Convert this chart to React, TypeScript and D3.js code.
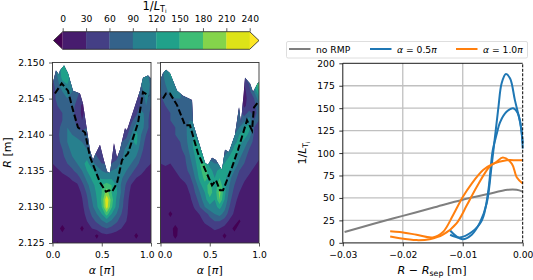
import React, { useEffect, useRef } from 'react';
import * as d3 from 'd3';

const levels = [0, 30, 60, 90, 120, 150, 180, 210, 240];
const levelColors = ['#471c6e', '#443f85', '#34628a', '#27808e', '#20a18a', '#3dbd75', '#84d44b', '#dde318', '#fde725'];
const belowColor = '#440154';
const aboveColor = '#fde725';

// rows: R from 2.150 down to 2.125 in 0.001 steps, columns: alpha 0..1 in 0.05 steps
const gridLeft = [
  [60, 90, 120, 120, 90, 60, 40, 40, 40, 40, 40, 40, 40, 40, 40, 40, 40, 40, 60, 90, 60],
  [60, 100, 130, 140, 100, 60, 40, 40, 40, 40, 40, 40, 40, 40, 40, 40, 40, 40, 70, 100, 70],
  [60, 90, 130, 140, 100, 70, 50, 40, 40, 40, 40, 40, 40, 40, 40, 40, 40, 50, 100, 110, 70],
  [50, 80, 110, 120, 100, 70, 50, 40, 40, 40, 40, 40, 40, 40, 40, 40, 40, 60, 90, 120, 80],
  [45, 70, 90, 100, 90, 70, 50, 40, 40, 40, 40, 40, 40, 40, 40, 40, 40, 60, 60, 120, 70],
  [45, 70, 80, 90, 80, 60, 40, 40, 40, 40, 40, 40, 40, 40, 40, 40, 40, 40, 60, 100, 70],
  [40, 60, 70, 80, 70, 50, 25, 40, 40, 40, 40, 40, 40, 40, 40, 40, 40, 30, 70, 90, 60],
  [40, 50, 60, 80, 70, 45, 25, 40, 40, 40, 40, 40, 40, 40, 40, 40, 30, 50, 100, 80, 50],
  [40, 50, 60, 80, 70, 50, 30, 50, 40, 40, 40, 40, 40, 40, 40, 30, 50, 80, 120, 70, 50],
  [40, 50, 70, 90, 80, 60, 50, 60, 40, 40, 40, 40, 40, 40, 40, 30, 70, 110, 110, 70, 50],
  [40, 50, 80, 90, 90, 80, 70, 60, 50, 40, 40, 40, 40, 40, 40, 50, 90, 130, 90, 60, 45],
  [40, 50, 70, 90, 100, 100, 90, 70, 70, 40, 40, 40, 40, 40, 60, 70, 110, 130, 80, 50, 45],
  [40, 50, 60, 80, 100, 110, 110, 90, 70, 50, 40, 40, 40, 40, 70, 100, 120, 110, 70, 45, 40],
  [35, 45, 55, 70, 90, 100, 120, 110, 80, 60, 50, 50, 50, 50, 80, 110, 110, 90, 60, 42, 35],
  [30, 40, 50, 60, 70, 90, 110, 130, 100, 80, 60, 60, 60, 70, 100, 110, 90, 70, 50, 40, 30],
  [20, 25, 35, 45, 55, 70, 90, 120, 130, 110, 90, 80, 90, 100, 110, 90, 70, 50, 40, 25, 15],
  [15, 15, 20, 25, 35, 45, 70, 100, 125, 125, 115, 110, 115, 115, 95, 70, 50, 30, 20, 15, 15],
  [15, 15, 15, 15, 20, 25, 50, 80, 110, 130, 150, 170, 150, 120, 85, 55, 28, 15, 15, 15, 15],
  [15, 15, 15, 15, 15, 15, 35, 65, 100, 125, 150, 195, 150, 125, 85, 45, 22, 15, 15, 15, 15],
  [15, 15, 15, 15, 15, 15, 28, 55, 90, 120, 155, 235, 165, 115, 75, 40, 18, 15, 15, 15, 15],
  [15, 15, 15, 15, 15, 15, 22, 50, 80, 115, 150, 225, 155, 110, 70, 38, 15, 15, 15, 15, 15],
  [15, 15, 15, 15, 15, 15, 18, 40, 65, 90, 120, 165, 120, 90, 60, 35, 15, 15, 15, 15, 15],
  [15, 15, 15, 15, 15, 15, 15, 30, 50, 65, 85, 100, 85, 65, 45, 30, 15, 15, 15, 15, 15],
  [15, 15, -15, 15, 15, 15, -10, 18, 30, 40, 50, 60, 50, 40, 30, 20, 15, 15, 15, 15, 15],
  [15, 15, 15, 15, 15, 15, 15, 15, 15, -10, 20, 22, 20, 15, 15, 15, 15, -10, 15, 15, 15],
  [15, -5, 15, 15, 15, 15, 15, 15, 15, 15, 15, 15, 15, 15, 15, 15, 15, 15, 15, 15, 15],
];

const gridRight = [
  [60, 110, 130, 120, 90, 60, 40, 40, 40, 40, 40, 40, 40, 40, 40, 40, 40, 80, 100, 90, 90],
  [60, 110, 130, 120, 100, 70, 50, 40, 40, 40, 40, 40, 40, 40, 40, 40, 40, 70, 100, 95, 100],
  [70, 100, 120, 120, 110, 70, 50, 40, 40, 40, 40, 40, 40, 40, 40, 40, 50, 60, 90, 100, 110],
  [70, 90, 110, 120, 110, 70, 50, 40, 40, 40, 40, 40, 40, 40, 40, 40, 40, 30, 60, 120, 170],
  [60, 80, 100, 110, 100, 70, 50, 45, 40, 40, 40, 40, 40, 40, 40, 40, 30, 20, 50, 90, 150],
  [55, 70, 80, 90, 90, 70, 60, 50, 40, 40, 40, 40, 40, 40, 40, 40, 40, 20, 40, 60, 110],
  [50, 60, 70, 80, 85, 75, 70, 60, 40, 40, 40, 40, 40, 40, 40, 40, 60, 25, 40, 50, 80],
  [45, 55, 60, 70, 80, 80, 80, 70, 50, 40, 40, 40, 40, 40, 40, 50, 70, 45, 70, 50, 70],
  [45, 50, 60, 65, 75, 85, 90, 85, 60, 40, 40, 40, 40, 40, 40, 60, 80, 80, 110, 60, 60],
  [40, 50, 55, 60, 70, 85, 100, 100, 70, 40, 40, 40, 40, 40, 40, 70, 90, 120, 130, 60, 55],
  [40, 45, 50, 60, 65, 80, 110, 120, 90, 50, 40, 40, 40, 40, 60, 90, 120, 140, 110, 55, 50],
  [40, 45, 50, 55, 60, 75, 110, 130, 110, 60, 40, 40, 40, 50, 70, 110, 130, 110, 80, 50, 45],
  [40, 45, 45, 50, 55, 70, 100, 130, 130, 90, 50, 40, 50, 70, 90, 130, 120, 90, 60, 45, 40],
  [35, 40, 40, 45, 50, 60, 90, 120, 140, 120, 70, 60, 60, 90, 120, 140, 100, 70, 50, 40, 35],
  [30, 35, 30, 40, 45, 55, 80, 110, 150, 150, 110, 90, 90, 120, 140, 120, 80, 60, 45, 35, 25],
  [15, 20, 22, 30, 40, 50, 70, 100, 140, 170, 130, 110, 130, 130, 120, 90, 60, 45, 35, 25, 15],
  [15, 15, 15, 20, 30, 40, 55, 90, 130, 160, 140, 120, 150, 130, 100, 70, 50, 35, 25, 15, 15],
  [15, 15, 15, 15, 20, 25, 40, 70, 110, 140, 160, 130, 170, 130, 90, 60, 40, 25, 15, 15, 15],
  [15, 15, 15, 15, 15, 20, 32, 60, 90, 120, 170, 130, 190, 130, 80, 50, 30, 15, 15, 15, 15],
  [15, 15, 15, 15, 15, 15, 25, 45, 75, 110, 140, 120, 180, 120, 70, 40, 20, 15, 15, 15, 15],
  [15, 15, 15, 15, 15, 15, 15, 35, 60, 90, 110, 110, 130, 100, 60, 32, 15, 15, 15, 15, 15],
  [15, 15, -10, 15, 15, 15, 15, 20, 32, 45, 70, 90, 100, 80, 45, 25, 15, 15, 15, 15, 15],
  [15, 15, 15, 15, 15, 15, 15, 15, 20, 35, 45, 60, 60, 45, 25, 15, -5, 15, 15, 15, 15],
  [15, 15, 15, -15, 15, 15, 15, 15, 15, 18, 25, 35, 30, 20, 15, -10, 15, 15, 15, 15, 15],
  [15, 15, 15, -10, 15, 15, 15, 15, 15, 15, 15, 15, 15, -10, 15, 15, 15, 15, 15, 15, 15],
  [15, 15, 15, 15, 15, 15, 15, 15, 15, 15, 15, 15, 15, 15, 15, 15, 15, 15, 15, 15, 15],
];

const edgeAlphaLeft = [0, 0.015, 0.035, 0.066, 0.076, 0.117, 0.157, 0.208, 0.279, 0.31, 0.35, 0.381, 0.411, 0.431, 0.482, 0.513, 0.553, 0.584, 0.624, 0.655, 0.685, 0.736, 0.756, 0.888, 0.919, 0.97, 1];
const edgeRLeft = [2.1470, 2.1478, 2.1489, 2.1483, 2.1489, 2.1496, 2.1485, 2.1461, 2.1457, 2.1443, 2.1406, 2.1378, 2.1365, 2.1372, 2.1386, 2.1369, 2.1349, 2.1347, 2.1388, 2.1368, 2.1379, 2.1409, 2.1406, 2.1461, 2.1479, 2.1482, 2.1478];
const edgeAlphaRight = [0, 0.005, 0.025, 0.056, 0.096, 0.168, 0.228, 0.32, 0.33, 0.452, 0.482, 0.523, 0.563, 0.624, 0.655, 0.695, 0.756, 0.797, 0.817, 0.858, 0.909, 0.939, 0.99, 1];
const edgeRRight = [2.1470, 2.1478, 2.1485, 2.149, 2.1485, 2.1461, 2.1454, 2.1448, 2.1416, 2.1361, 2.1358, 2.1368, 2.1365, 2.1351, 2.1379, 2.1376, 2.14, 2.1438, 2.1416, 2.1479, 2.1471, 2.1459, 2.1472, 2.1472];

const dashAlphaLeft = [0.025, 0.093, 0.157, 0.208, 0.259, 0.33, 0.381, 0.482, 0.543, 0.574, 0.604, 0.655, 0.706, 0.766, 0.787, 0.868, 0.919, 0.98];
const dashRLeft = [2.1457, 2.1471, 2.1461, 2.1434, 2.141, 2.1403, 2.1369, 2.1334, 2.1321, 2.1323, 2.1321, 2.1333, 2.1365, 2.1374, 2.1383, 2.1416, 2.1459, 2.1454];
const dashAlphaRight = [0.025, 0.056, 0.096, 0.168, 0.249, 0.299, 0.381, 0.523, 0.563, 0.604, 0.635, 0.726, 0.787, 0.878, 0.929, 0.949, 0.99];
const dashRRight = [2.145, 2.1457, 2.1457, 2.1441, 2.1413, 2.1413, 2.1374, 2.133, 2.1337, 2.1323, 2.1323, 2.1355, 2.1379, 2.142, 2.1406, 2.1438, 2.1445];

const noRmpX = [-0.0297, -0.025, -0.02, -0.015, -0.01, -0.006, -0.0025, -0.001, 0];
const noRmpY = [12, 21, 30, 39, 48, 54, 59, 59, 57];
const blueAX = [-0.01214, -0.0112, -0.01, -0.0085, -0.0071, -0.006, -0.0052, -0.0041, -0.0035, -0.0028, -0.0021, -0.0013, -0.0004, 0];
const blueAY = [14, 8, 4, 9, 23, 44, 85, 148, 178, 188, 183, 159, 133, 111];
const blueBX = [-0.0121, -0.0105, -0.0085, -0.0068, -0.0058, -0.005, -0.0043, -0.0038, -0.0027, -0.0016, -0.0008, -0.0002, 0];
const blueBY = [9, 6, 12, 25, 55, 103, 122, 134, 146, 150, 144, 125, 105];
const orangeCX = [-0.0221, -0.0205, -0.0177, -0.015, -0.0133, -0.0116, -0.01, -0.0085, -0.0066, -0.005, -0.0027, -0.001, 0];
const orangeCY = [13, 12, 9, 6, 12, 31, 51, 66, 81, 88, 92, 92, 92];
const orangeDX = [-0.0221, -0.0205, -0.0177, -0.0155, -0.0133, -0.011, -0.0093, -0.0077, -0.0055, -0.0044, -0.0033, -0.0018, -0.001, 0];
const orangeDY = [7, 5, 3, 4, 9, 22, 42, 62, 85, 90, 95, 88, 73, 66];

const rTicks = [2.125, 2.13, 2.135, 2.14, 2.145, 2.15];
const alphaTicks = [0, 0.5, 1];
const dxTicks = [-0.03, -0.02, -0.01, 0];
const gradTicks = [0, 25, 50, 75, 100, 125, 150, 175, 200];

const FONT = '"DejaVu Sans", sans-serif';
const TICK = 9.2;

type Sel = d3.Selection<any, any, any, any>;

// matplotlib-like text with italic/sub parts
const mathText = (g: Sel, x: number, y: number, parts: [string, string?][], size: number, rotate = false) => {
  const t = g.append('text')
    .attr('text-anchor', 'middle')
    .attr('font-size', size)
    .attr('font-family', FONT)
    .attr('fill', '#000')
    .attr('transform', `translate(${x},${y})${rotate ? ' rotate(-90)' : ''}`);
  let shift = 0;
  parts.forEach(([s, kind]) => {
    const sp = t.append('tspan').text(s);
    let target = 0;
    if (kind === 'i') sp.attr('font-style', 'italic');
    if (kind === 'sub') {
      sp.attr('font-size', size * 0.7);
      target = size * 0.2;
    }
    if (kind === 'subsub') {
      sp.attr('font-size', size * 0.5);
      target = size * 0.32;
    }
    sp.attr('dy', target - shift);
    shift = target;
  });
  return t;
};

const styleAxis = (g: Sel, color = '#000') => {
  g.attr('font-size', TICK).attr('font-family', FONT);
  g.selectAll('.domain').remove();
  g.selectAll('line').attr('stroke', color).attr('stroke-width', 0.8);
  g.selectAll('text').attr('fill', '#000');
};

const App = () => {
  const ref = useRef<SVGSVGElement>(null);

  useEffect(() => {
    const svg = d3.select(ref.current);
    svg.selectAll('*').remove();
    const top = 62.5;
    const bottom = 243;
    const y = d3.scaleLinear().domain([2.125, 2.15]).range([bottom, top]);

    const panel = (
      id: string, x0: number, x1: number, grid: number[][],
      edgeA: number[], edgeR: number[], dashA: number[], dashR: number[], first: boolean,
    ) => {
      const x = d3.scaleLinear().domain([0, 1]).range([x0, x1]);
      const g = svg.append('g');
      const clipPts: [number, number][] = edgeA.map((a, i) => [x(a), y(edgeR[i])]);
      clipPts.push([x(1), y(2.125)], [x(0), y(2.125)]);
      const poly = d3.line()(clipPts) + 'Z';
      g.append('clipPath').attr('id', id).append('path').attr('d', poly);

      const rows = grid.length;
      const cols = grid[0].length;
      const colX = d3.scaleLinear().domain([0, cols - 1]).range([x0, x1]);
      const rowY = d3.scaleLinear().domain([0, rows - 1]).range([y(2.15), y(2.125)]);
      const path = d3.geoPath(d3.geoTransform({
        point(px, py) {
          (this as any).stream.point(colX(px - 0.5), rowY(py - 0.5));
        },
      }));
      const contours = d3.contours().size([cols, rows]).thresholds(levels)(grid.flat());
      const fills = g.append('g').attr('clip-path', `url(#${id})`);
      fills.append('path').attr('d', poly).attr('fill', belowColor);
      fills.selectAll('path.band')
        .data(contours)
        .join('path')
        .attr('class', 'band')
        .attr('d', (d) => path(d))
        .attr('fill', (_, i) => levelColors[i]);

      const dash = d3.line<number>().x((a) => x(a)).y((_, i) => y(dashR[i]));
      g.append('path')
        .attr('d', dash(dashA))
        .attr('fill', 'none')
        .attr('stroke', '#000')
        .attr('stroke-width', 2)
        .attr('stroke-dasharray', '6.5,2.8');

      g.append('rect')
        .attr('x', x0).attr('y', top)
        .attr('width', x1 - x0).attr('height', bottom - top)
        .attr('fill', 'none').attr('stroke', '#333').attr('stroke-width', 0.9);

      const ax = g.append('g').attr('transform', `translate(0,${bottom})`)
        .call(d3.axisBottom(x).tickValues(alphaTicks).tickFormat(d3.format('.1f')).tickSize(3.5).tickPadding(5) as any);
      styleAxis(ax, '#333');
      // the two inner labels are nudged apart so they do not collide
      ax.selectAll('text').attr('dx', (d: any) => {
        if (first && d === 1) return -4.3;
        if (!first && d === 0) return 4;
        return 0;
      });
      const ay = g.append('g').attr('transform', `translate(${x0},0)`)
        .call(d3.axisLeft(y).tickValues(rTicks).tickFormat(first ? d3.format('.3f') : () => '').tickSize(3.5).tickPadding(4.5) as any);
      styleAxis(ay, '#333');

      mathText(g, (x0 + x1) / 2, 274, [['α', 'i'], [' ['], ['π', 'i'], [']']], 11);
    };

    panel('clipA', 52.5, 151, gridLeft, edgeAlphaLeft, edgeRLeft, dashAlphaLeft, dashRLeft, true);
    panel('clipB', 160.5, 259, gridRight, edgeAlphaRight, edgeRRight, dashAlphaRight, dashRRight, false);
    mathText(svg, 10.5, 152.5, [['R', 'i'], [' [m]']], 11, true);

    // colorbar
    const cb = svg.append('g');
    const c = d3.scaleLinear().domain([0, 240]).range([62.7, 249.7]);
    const cTop = 31.7;
    const cBot = 49.3;
    const cMid = (cTop + cBot) / 2;
    cb.selectAll('rect')
      .data(levels.slice(0, -1))
      .join('rect')
      .attr('x', (d) => c(d))
      .attr('y', cTop)
      .attr('width', (d) => c(d + 30) - c(d) + 0.3)
      .attr('height', cBot - cTop)
      .attr('fill', (_, i) => levelColors[i]);
    const lo = d3.line()([[c(0), cTop], [53.5, cMid], [c(0), cBot]]) + 'Z';
    const hi = d3.line()([[c(240), cTop], [259, cMid], [c(240), cBot]]) + 'Z';
    cb.append('path').attr('d', lo).attr('fill', belowColor);
    cb.append('path').attr('d', hi).attr('fill', aboveColor);
    cb.append('path')
      .attr('d', d3.line()([[c(0), cTop], [c(240), cTop], [259, cMid], [c(240), cBot], [c(0), cBot], [53.5, cMid]]) + 'Z')
      .attr('fill', 'none').attr('stroke', '#222').attr('stroke-width', 0.8);
    const ca = cb.append('g').attr('transform', `translate(0,${cTop})`)
      .call(d3.axisTop(c).tickValues(levels).tickFormat(d3.format('d')).tickSize(3.5).tickPadding(6.5) as any);
    styleAxis(ca, '#333');
    mathText(svg, 154.5, 9.5, [['1/'], ['L', 'i'], ['T', 'sub'], ['i', 'subsub']], 11.5);

    // right profile panel
    const px = d3.scaleLinear().domain([-0.03, 0]).range([342.8, 522.7]);
    const py = d3.scaleLinear().domain([0, 200]).range([242.8, 63.3]);
    const r = svg.append('g');
    r.selectAll('line.gx').data(dxTicks.slice(1, -1)).join('line').attr('class', 'gx')
      .attr('x1', (d) => px(d)).attr('x2', (d) => px(d))
      .attr('y1', py(0)).attr('y2', py(200))
      .attr('stroke', '#c0c0c0').attr('stroke-width', 1.3);
    r.selectAll('line.gy').data(gradTicks.slice(1, -1)).join('line').attr('class', 'gy')
      .attr('x1', px(-0.03)).attr('x2', px(0))
      .attr('y1', (d) => py(d)).attr('y2', (d) => py(d))
      .attr('stroke', '#c0c0c0').attr('stroke-width', 1.3);

    const curve = (xs: number[], ys: number[], color: string) => {
      const line = d3.line<number>().x((v) => px(v)).y((_, i) => py(ys[i])).curve(d3.curveCatmullRom.alpha(0.5));
      r.append('path').attr('d', line(xs)).attr('fill', 'none').attr('stroke', color).attr('stroke-width', 2);
    };
    curve(noRmpX, noRmpY, '#7f7f7f');
    curve(blueAX, blueAY, '#1f77b4');
    curve(blueBX, blueBY, '#1f77b4');
    curve(orangeCX, orangeCY, '#ff7f0e');
    curve(orangeDX, orangeDY, '#ff7f0e');

    r.append('line').attr('x1', px(-0.03)).attr('x2', px(0)).attr('y1', py(0)).attr('y2', py(0))
      .attr('stroke', '#444').attr('stroke-width', 1.2);
    r.append('line').attr('x1', px(0)).attr('x2', px(0)).attr('y1', py(0)).attr('y2', py(200))
      .attr('stroke', '#000').attr('stroke-width', 1).attr('stroke-dasharray', '3,1.5');
    r.append('path')
      .attr('d', d3.line()([[px(-0.03), py(0)], [px(-0.03), py(200)], [px(0), py(200)]]))
      .attr('fill', 'none').attr('stroke', '#000').attr('stroke-width', 0.9);

    const rx = r.append('g').attr('transform', `translate(0,${py(0)})`)
      .call(d3.axisBottom(px).tickValues(dxTicks).tickFormat(d3.format('.2f')).tickSize(3.5).tickPadding(5) as any);
    styleAxis(rx);
    const ry = r.append('g').attr('transform', `translate(${px(-0.03)},0)`)
      .call(d3.axisLeft(py).tickValues(gradTicks).tickSize(3.5).tickPadding(4.5) as any);
    styleAxis(ry);
    mathText(r, 432, 273.5, [['R', 'i'], [' − '], ['R', 'i'], ['sep', 'sub'], [' [m]']], 11.2);
    mathText(r, 306, 153, [['1/'], ['L', 'i'], ['T', 'sub'], ['i', 'subsub']], 11, true);

    // legend
    const lg = svg.append('g');
    lg.append('rect').attr('x', 286.5).attr('y', 41.5).attr('width', 241).attr('height', 16.5).attr('rx', 1.5)
      .attr('fill', '#fff').attr('stroke', '#d5d5d5').attr('stroke-width', 0.8);
    const items: [number, string, [string, string?][]][] = [
      [289, '#7f7f7f', [['no RMP']]],
      [370, '#1f77b4', [['α', 'i'], [' = 0.5'], ['π', 'i']]],
      [456, '#ff7f0e', [['α', 'i'], [' = 1.0'], ['π', 'i']]],
    ];
    items.forEach(([lx, color, parts]) => {
      lg.append('line').attr('x1', lx).attr('x2', lx + 21.5).attr('y1', 49).attr('y2', 49)
        .attr('stroke', color).attr('stroke-width', 2);
      mathText(lg, lx + 27, 52.5, parts, TICK).attr('text-anchor', 'start');
    });
  }, []);

  return (
    <svg
      ref={ref}
      width={533}
      height={280}
      style={{ position: 'fixed', left: 0, top: 0, background: '#fff' }}
    />
  );
};

export default App;
